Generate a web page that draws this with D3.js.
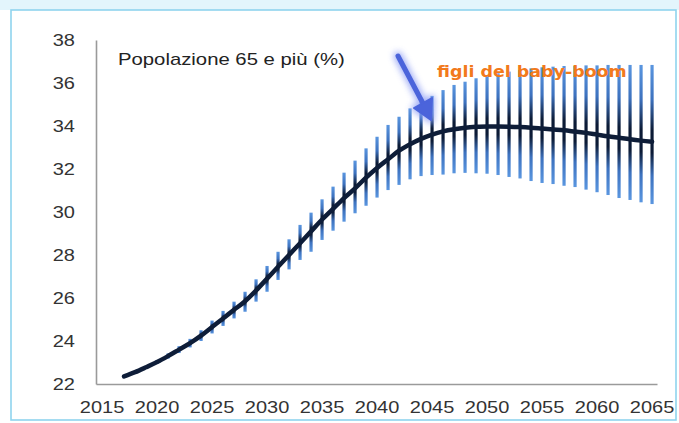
<!DOCTYPE html>
<html>
<head>
<meta charset="utf-8">
<script src="https://cdn.jsdelivr.net/npm/d3@7"></script>
<style>
  html, body { margin: 0; padding: 0; background: #fff; }
  svg { display: block; }
  text { font-family: "Liberation Sans", Arial, sans-serif; }
</style>
</head>
<body>
<svg id="chart" width="679" height="423"></svg>
<script>
// ---- data ----
const lineYears = d3.range(2017, 2066);
const lineValues = [22.35, 22.55, 22.78, 23.02, 23.30, 23.60, 23.90, 24.25, 24.65, 25.05,
  25.45, 25.85, 26.35, 26.90, 27.45, 28.00, 28.55, 29.10, 29.65, 30.15,
  30.65, 31.10, 31.60, 32.05, 32.45, 32.85, 33.15, 33.40, 33.60, 33.75,
  33.85, 33.92, 33.96, 33.98, 33.98, 33.97, 33.95, 33.92, 33.88, 33.84,
  33.80, 33.74, 33.68, 33.60, 33.52, 33.45, 33.38, 33.32, 33.27];
const barYears = d3.range(2018, 2066);
const barUpper = [22.58, 22.84, 23.11, 23.42, 23.76, 24.10, 24.50, 24.95, 25.40,
  25.83, 26.29, 26.87, 27.49, 28.15, 28.73, 29.40, 29.97, 30.59, 31.18,
  31.83, 32.39, 32.96, 33.50, 34.05, 34.43, 34.82, 35.13, 35.40, 35.67,
  35.91, 36.06, 36.22, 36.37, 36.45, 36.53, 36.60, 36.68, 36.73, 36.76,
  36.79, 36.79, 36.82, 36.82, 36.84, 36.84, 36.84, 36.84, 36.84];
const barLower = [22.52, 22.72, 22.93, 23.18, 23.44, 23.70, 24.00, 24.35, 24.70,
  25.05, 25.36, 25.83, 26.29, 26.84, 27.33, 27.77, 28.15, 28.70, 29.13,
  29.55, 29.94, 30.29, 30.67, 31.02, 31.26, 31.52, 31.67, 31.72, 31.74,
  31.80, 31.82, 31.80, 31.78, 31.72, 31.63, 31.56, 31.44, 31.35, 31.30,
  31.22, 31.16, 31.04, 30.92, 30.79, 30.65, 30.56, 30.45, 30.37];
const xTicks = [2015, 2020, 2025, 2030, 2035, 2040, 2045, 2050, 2055, 2060, 2065];
const yTicks = [22, 24, 26, 28, 30, 32, 34, 36, 38];
const titleText = "Popolazione 65 e più (%)";
const noteText = "figli del baby-boom";

// ---- layout ----
const svg = d3.select("#chart");
const x = d3.scaleLinear().domain([2014.45, 2065.45]).range([96, 657]);
const y = d3.scaleLinear().domain([22, 38]).range([384, 40]);

// frame
svg.append("rect").attr("x", 0).attr("y", 0).attr("width", 679).attr("height", 10)
  .attr("fill", "#e3f5fc");
svg.append("rect").attr("x", 11).attr("y", 10).attr("width", 665).attr("height", 410)
  .attr("fill", "#fff").attr("stroke", "#8fd4ee").attr("stroke-width", 1.6);

const defs = svg.append("defs");

// axes lines
const axisColor = "#9a9a9a";
svg.append("g").attr("transform", "translate(96,0)")
  .call(d3.axisLeft(y).tickValues([]).tickSize(0))
  .call(g => g.select(".domain").attr("stroke", axisColor).attr("stroke-width", 1.6));
svg.append("g").attr("transform", "translate(0,384)")
  .call(d3.axisBottom(x).tickValues([]).tickSize(0))
  .call(g => g.select(".domain").attr("stroke", axisColor).attr("stroke-width", 1.6));

// stretched text helper
function stretchedText(parent, px, py, str, opts) {
  const g = parent.append("g");
  const t = g.append("text").attr("x", 0).attr("y", 0)
    .attr("text-anchor", opts.anchor || "start")
    .attr("font-size", opts.size)
    .attr("font-weight", opts.weight || "normal")
    .attr("fill", opts.fill)
    .text(str);
  if (opts.family) t.style("font-family", opts.family);
  let sx = opts.sx;
  if (opts.width) sx = opts.width / t.node().getComputedTextLength();
  g.attr("transform", `translate(${px},${py}) scale(${sx},1)`);
  return t;
}

// tick labels
const labels = svg.append("g");
yTicks.forEach(v => stretchedText(labels, 75, y(v) + 5.6, v, {sx: 1.25, anchor: "end", size: 16, fill: "#333"}));
xTicks.forEach(v => stretchedText(labels, x(v), 413, v, {sx: 1.25, anchor: "middle", size: 16, fill: "#333"}));

// bars with gradient
const bars = barYears.map((yr, i) => ({yr, hi: barUpper[i], lo: barLower[i], mid: lineValues[lineYears.indexOf(yr)]}));
bars.forEach((b, i) => {
  const t = Math.max(0, Math.min(1, (b.hi - b.mid) / (b.hi - b.lo)));
  const gr = defs.append("linearGradient").attr("id", "bg" + i)
    .attr("x1", 0).attr("y1", 0).attr("x2", 0).attr("y2", 1);
  gr.append("stop").attr("offset", 0).attr("stop-color", "#5a96e0");
  gr.append("stop").attr("offset", Math.max(0, t * 0.45)).attr("stop-color", "#3d72bf");
  gr.append("stop").attr("offset", Math.max(0, t - 0.08)).attr("stop-color", "#0c1b36");
  gr.append("stop").attr("offset", Math.min(1, t + 0.08)).attr("stop-color", "#0c1b36");
  gr.append("stop").attr("offset", Math.min(1, t + (1 - t) * 0.55)).attr("stop-color", "#3d72bf");
  gr.append("stop").attr("offset", 1).attr("stop-color", "#5a96e0");
});
svg.append("g").selectAll("rect").data(bars).join("rect")
  .attr("x", d => x(d.yr) - 1.6)
  .attr("width", 3.2)
  .attr("y", d => y(d.hi))
  .attr("height", d => Math.max(1.5, y(d.lo) - y(d.hi)))
  .attr("fill", (d, i) => `url(#bg${i})`);

// central line
const lineData = lineYears.map((yr, i) => [yr, lineValues[i]]);
svg.append("path").datum(lineData)
  .attr("fill", "none").attr("stroke", "#0e1d38").attr("stroke-width", 4.5)
  .attr("stroke-linecap", "round")
  .attr("d", d3.line().x(d => x(d[0])).y(d => y(d[1])).curve(d3.curveMonotoneX));

// title
stretchedText(svg, 118, 65, titleText, {width: 227, size: 16, fill: "#222"});

// arrow with glow
const glow = defs.append("filter").attr("id", "glow").attr("x", "-50%").attr("y", "-50%").attr("width", "200%").attr("height", "200%");
glow.append("feGaussianBlur").attr("stdDeviation", 3);
const arrow = svg.append("g");
const ax0 = 398, ay0 = 56, ax1 = 431, ay1 = 120;
const drawArrow = (g, color, w) => {
  g.append("line").attr("x1", ax0).attr("y1", ay0).attr("x2", ax1 - 4).attr("y2", ay1 - 9)
    .attr("stroke", color).attr("stroke-width", w).attr("stroke-linecap", "round");
  g.append("path").attr("d", `M${ax1},${ay1} L${ax1 - 17},${ay1 - 12} L${ax1 + 1},${ay1 - 22} Z`)
    .attr("fill", color).attr("stroke", color).attr("stroke-width", w - 3).attr("stroke-linejoin", "round");
};
drawArrow(arrow.append("g").attr("filter", "url(#glow)").attr("opacity", 0.8), "#8e9ef5", 9);
drawArrow(arrow.append("g"), "#4b64db", 5);

// orange note
stretchedText(svg, 437, 77, noteText, {width: 190, size: 16.5, weight: "bold", fill: "#f27a1c", family: "'DejaVu Sans', sans-serif"});
</script>
</body>
</html>
